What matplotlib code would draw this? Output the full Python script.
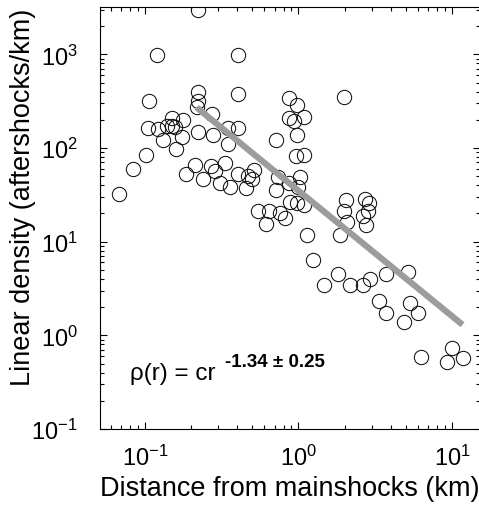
import numpy as np
import matplotlib
matplotlib.use('Agg')
import matplotlib.pyplot as plt
from matplotlib.ticker import LogLocator, NullFormatter, FixedLocator, FixedFormatter

plt.rcParams['font.family'] = ['Liberation Sans', 'DejaVu Sans']
plt.rcParams['mathtext.fontset'] = 'custom'
plt.rcParams['mathtext.rm'] = 'Liberation Sans'
plt.rcParams['mathtext.bf'] = 'Liberation Sans:bold'

# ---- data ----
distance_km = [
    0.068, 0.084, 0.102, 0.107, 0.119, 0.105, 0.121, 0.132, 0.140, 0.149,
    0.149, 0.158, 0.160, 0.175, 0.178, 0.186, 0.213, 0.223, 0.223, 0.223,
    0.217, 0.223,
    0.275, 0.279, 0.271, 0.288, 0.240, 0.310, 0.330, 0.345, 0.345, 0.360,
    0.401, 0.401, 0.401, 0.401, 0.452, 0.472, 0.501, 0.517, 0.541,
    0.647, 0.619, 0.719, 0.719, 0.741, 0.763, 0.823, 0.861, 0.861, 0.928,
    0.985, 1.078, 0.985, 0.861, 0.887, 0.985, 1.078, 0.970, 1.078, 1.03,
    1.00, 1.144, 1.234,
    1.85, 1.82, 1.965, 2.024, 1.965, 2.055, 2.73, 2.86, 2.82, 2.65, 2.77,
    1.455, 2.15, 2.65, 2.94, 3.74, 5.13, 3.32, 3.74, 5.29, 5.96, 4.83,
    6.24, 9.93, 9.21, 11.7,
]
density = [
    32.0, 59.4, 84.1, 320, 980, 164, 160, 122, 172, 210,
    172, 168, 97.5, 131, 200, 52.5, 65.6, 2970, 400, 320,
    276, 149,
    232, 138, 64, 56.6, 46.4, 42.0, 69.0, 164, 110, 38.1,
    975, 381, 164, 52.5, 37.2, 50.0, 46.4, 58.0, 21.5,
    21.5, 15.6, 122, 35.3, 48.8, 20.0, 18.1, 345, 210, 195,
    290, 215, 138, 42.0, 26.3, 25.6, 24.4, 82.0, 84.1, 48.8,
    38.1, 11.9, 6.4,
    11.9, 4.53, 353, 27.6, 21.0, 16.4, 28.3, 25.6, 21.0, 18.6, 15.2,
    3.45, 3.45, 3.45, 4.0, 4.53, 4.76, 2.32, 1.72, 2.21, 1.72, 1.38,
    0.58, 0.725, 0.513, 0.566,
]

fit_c = 35.0
fit_exponent = -1.34
fit_error = 0.25
fit_range_km = [0.217, 11.7]

x_ticks = [0.1, 1, 10]
x_tick_labels = [r'$\mathregular{10^{-1}}$', r'$\mathregular{10^{0}}$', r'$\mathregular{10^{1}}$']
y_ticks = [0.1, 1, 10, 100, 1000]
y_tick_labels = [r'$\mathregular{10^{-1}}$', r'$\mathregular{10^{0}}$', r'$\mathregular{10^{1}}$',
                 r'$\mathregular{10^{2}}$', r'$\mathregular{10^{3}}$']

x_label = 'Distance from mainshocks (km)'
y_label = 'Linear density (aftershocks/km)'

# ---- figure ----
W, H = 479, 506
fig = plt.figure(figsize=(W / 100, H / 100), dpi=100)
ax = fig.add_axes([100 / W, 1 - 430 / H, 380 / W, 422 / H])

ax.set_xscale('log')
ax.set_yscale('log')

ax.plot(distance_km, density, linestyle='none', marker='o', markersize=10.3,
        markerfacecolor='none', markeredgecolor='#111111', markeredgewidth=0.75, zorder=2)

fx = np.logspace(np.log10(fit_range_km[0]), np.log10(fit_range_km[1]), 50)
fy = fit_c * fx ** fit_exponent
ax.plot(fx, fy, color='#9c9c9c', linewidth=4.5, solid_capstyle='butt', zorder=3)

ax.set_xlim(0.051, 15.2)
ax.set_ylim(0.1, 3200)

ax.xaxis.set_major_locator(FixedLocator(x_ticks))
ax.xaxis.set_major_formatter(FixedFormatter(x_tick_labels))
ax.yaxis.set_major_locator(FixedLocator(y_ticks))
ax.yaxis.set_major_formatter(FixedFormatter(y_tick_labels))
ax.xaxis.set_minor_locator(LogLocator(base=10, subs=np.arange(2, 10), numticks=20))
ax.yaxis.set_minor_locator(LogLocator(base=10, subs=np.arange(2, 10), numticks=20))
ax.xaxis.set_minor_formatter(NullFormatter())
ax.yaxis.set_minor_formatter(NullFormatter())

ax.tick_params(which='both', direction='in', top=True, right=True, width=0.8, color='black')
ax.tick_params(which='major', length=5, labelsize=17)
ax.tick_params(axis='y', which='major', pad=16)
ax.tick_params(axis='x', which='major', pad=11)
ax.tick_params(which='minor', length=3)
for s in ax.spines.values():
    s.set_linewidth(0.8)

ax.set_xlabel(x_label, fontsize=19.5, labelpad=4)
ax.set_ylabel(y_label, fontsize=19.5)
ax.yaxis.set_label_coords((36 - 100) / 380, (430 - 197) / 422)

ax.text(0.079, 0.118, '\u03c1(r) = cr', transform=ax.transAxes, fontsize=17.5,
        ha='left', va='baseline')
ax.text(0.329, 0.149, '-1.34 \u00b1 0.25', transform=ax.transAxes, fontsize=13.5,
        fontweight='bold', ha='left', va='baseline')

fig.savefig('out.png', dpi=100)
